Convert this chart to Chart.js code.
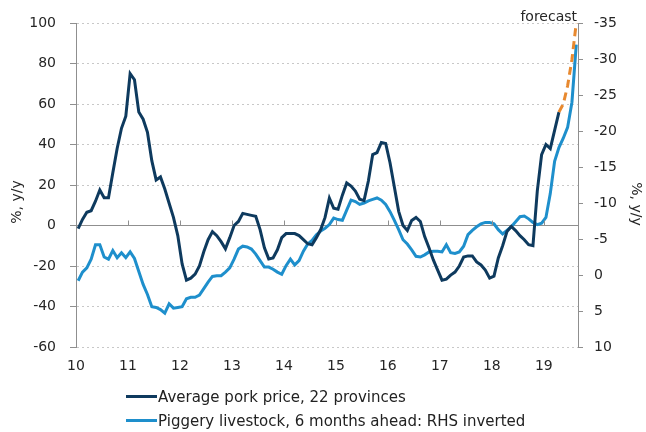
<!DOCTYPE html>
<html><head><meta charset="utf-8">
<script src="https://cdn.jsdelivr.net/npm/chart.js@4/dist/chart.umd.min.js"></script>
<style>
html,body{margin:0;padding:0;background:#fff;}
#wrap{position:relative;width:646px;height:432px;}
#legend{position:absolute;left:126px;top:385px;font-family:"DejaVu Sans",Verdana,sans-serif;font-size:15px;color:#222;}
.item{height:24px;line-height:24px;white-space:nowrap;}
.swatch{display:inline-block;width:31px;height:3px;vertical-align:middle;margin-right:1px;position:relative;top:-1px;}
</style></head><body>
<div id="wrap"><canvas id="c" width="646" height="432"></canvas><div id="legend"></div></div>
<script>
// x-axis year labels (tick at January of each year)
const yearLabels = ["10","11","12","13","14","15","16","17","18","19"];
const seriesNames = ["Average pork price, 22 provinces", "Piggery livestock, 6 months ahead: RHS inverted"];

// Average pork price, 22 provinces, % y/y (left axis), monthly from Jan 2010
const porkPrice = [
  -1.5, 3, 6.5, 7.3, 12, 17.5, 13.7, 13.7, 26, 38,
  48, 54, 75, 72, 56, 52.5, 46, 32, 22.5, 24,
  18, 11, 4, -5, -19, -27, -26, -24, -20, -13,
  -7, -3, -5, -8, -11.5, -6, 0, 2, 6, 5.5,
  5, 4.5, -2, -11, -16.5, -16, -12, -6, -4, -4,
  -4, -5, -7, -9, -9.5, -6, -2, 4, 13.5, 8.5,
  8, 15, 21, 19.5, 17, 13, 12.3, 22, 35, 36,
  41, 40.5, 31, 19, 7, 0, -2.5, 2.5, 4, 2,
  -5.5, -11, -17, -22, -27, -26.5, -24.5, -23, -20, -15.6,
  -15, -15, -18, -19.5, -22, -26, -25, -16, -10, -3,
  -0.5, -2.5, -5, -7, -9.5, -10, 17, 35, 40, 38,
  47, 56
];
// Forecast continuation of pork price (starts at last actual value)
const forecastStart = 111;
const porkForecast = [56, 60, 69, 82, 100];

// Piggery livestock, 6 months ahead, % y/y (right axis, inverted)
const livestock = [
  0.8, -0.4, -1, -2.2, -4.2, -4.2, -2.5, -2.2, -3.4, -2.4,
  -3.1, -2.4, -3.2, -2.3, -0.5, 1.3, 2.7, 4.4, 4.5, 4.8,
  5.3, 4, 4.6, 4.5, 4.4, 3.3, 3.1, 3.1, 2.8, 1.9,
  1, 0.2, 0.1, 0.1, -0.4, -1, -2.2, -3.6, -4, -3.9,
  -3.6, -2.9, -2, -1.1, -1.1, -0.8, -0.4, -0.1, -1.3, -2.2,
  -1.4, -2, -3.3, -4.3, -4.8, -5.6, -6.1, -6.5, -7, -7.9,
  -7.7, -7.6, -9, -10.4, -10.2, -9.8, -10, -10.3, -10.5, -10.7,
  -10.4, -9.8, -8.8, -7.6, -6.3, -4.9, -4.3, -3.5, -2.6, -2.5,
  -2.8, -3.2, -3.3, -3.3, -3.2, -4.2, -3.1, -3, -3.2, -4,
  -5.6, -6.2, -6.7, -7.1, -7.3, -7.3, -7.1, -6.3, -5.7, -6.2,
  -6.7, -7.4, -8.1, -8.2, -7.8, -7.3, -7, -7.2, -8, -11.3,
  -15.8, -17.7, -19, -20.5, -24, -32
];

const leftTicks = {min: -60, max: 100, step: 20};
const rightTicks = {min: -35, max: 10, step: 5};

const toPts = (arr, start) => arr.map((v, i) => ({x: start + i + 0.5, y: v}));

const colors = {dark: "#0e3a5e", light: "#1e8fcc", orange: "#e8892f", text: "#262626", axis: "#8f8f8f", grid: "#c8c8c8"};
const FONT = "'DejaVu Sans', Verdana, sans-serif";

const decor = {
  id: "decor",
  afterDraw(chart) {
    const {ctx, chartArea, scales} = chart;
    const x = scales.x, y = scales.y;
    const y0 = y.getPixelForValue(0);
    ctx.save();
    ctx.strokeStyle = colors.axis; ctx.lineWidth = 1;
    x.ticks.forEach(t => {
      const px = Math.round(x.getPixelForValue(t.value)) + 0.5;
      ctx.beginPath(); ctx.moveTo(px, y0); ctx.lineTo(px, y0 - 5); ctx.stroke();
    });
    ctx.fillStyle = colors.text;
    ctx.font = "14px " + FONT;
    ctx.save();
    ctx.translate(17, 202); ctx.rotate(-Math.PI/2);
    ctx.textAlign = "center"; ctx.textBaseline = "middle";
    ctx.fillText("%, y/y", 0, 0);
    ctx.restore();
    ctx.save();
    ctx.translate(636, 204); ctx.rotate(Math.PI/2);
    ctx.textAlign = "center"; ctx.textBaseline = "middle";
    ctx.fillText("%, y/y", 0, 0);
    ctx.restore();
    ctx.textAlign = "right"; ctx.textBaseline = "alphabetic";
    ctx.fillText("forecast", chartArea.right - 1, chartArea.top - 2);
    ctx.restore();
  }
};

const chart = new Chart(document.getElementById("c"), {
  type: "line",
  data: {
    datasets: [
      {label: seriesNames[0], data: toPts(porkPrice, 0), yAxisID: "y", borderColor: colors.dark, borderWidth: 3, pointRadius: 0, tension: 0, order: 1},
      {label: "forecast", data: toPts(porkForecast, forecastStart), yAxisID: "y", borderColor: colors.orange, borderWidth: 3, borderDash: [8, 5], pointRadius: 0, tension: 0, order: 0},
      {label: seriesNames[1], data: toPts(livestock, 0), yAxisID: "y2", borderColor: colors.light, borderWidth: 3, pointRadius: 0, tension: 0, order: 2}
    ]
  },
  options: {
    responsive: false, animation: false,
    layout: {padding: {top: 23, left: 0, right: 0, bottom: 0}},
    plugins: {legend: {display: false}, tooltip: {enabled: false}},
    scales: {
      x: {
        type: "linear", min: 0, max: 115.9,
        afterBuildTicks: s => { s.ticks = yearLabels.map((_, k) => ({value: k * 12})); },
        afterFit: s => { s.height = 85; },
        ticks: {autoSkip: false, maxRotation: 0, padding: 11, color: colors.text, font: {family: FONT, size: 14},
          callback: v => yearLabels[Math.round(v / 12)]},
        grid: {display: false, drawTicks: false},
        border: {display: false}
      },
      y: {
        position: "left", min: leftTicks.min, max: leftTicks.max,
        afterFit: s => { s.width = 76; },
        ticks: {stepSize: leftTicks.step, padding: 14, color: colors.text, font: {family: FONT, size: 14}},
        grid: {
          color: c => c.tick && c.tick.value === 0 ? colors.axis : colors.grid,
          lineWidth: 1, tickLength: 6, tickColor: colors.axis
        },
        border: {display: true, color: colors.axis, width: 1,
          dash: c => (c.tick && c.tick.value === 0) ? [] : [2, 3]}
      },
      y2: {
        position: "right", min: rightTicks.min, max: rightTicks.max, reverse: true,
        afterFit: s => { s.width = 68; },
        ticks: {stepSize: rightTicks.step, padding: 11, color: colors.text, font: {family: FONT, size: 14}},
        grid: {drawOnChartArea: false, tickLength: 5, tickColor: colors.axis},
        border: {display: true, color: colors.axis, width: 1}
      }
    }
  },
  plugins: [decor]
});

const legend = document.getElementById("legend");
[chart.data.datasets[0], chart.data.datasets[2]].forEach(ds => {
  const item = document.createElement("div"); item.className = "item";
  const sw = document.createElement("span"); sw.className = "swatch"; sw.style.background = ds.borderColor;
  item.appendChild(sw); item.appendChild(document.createTextNode(ds.label));
  legend.appendChild(item);
});
</script>
</body></html>
